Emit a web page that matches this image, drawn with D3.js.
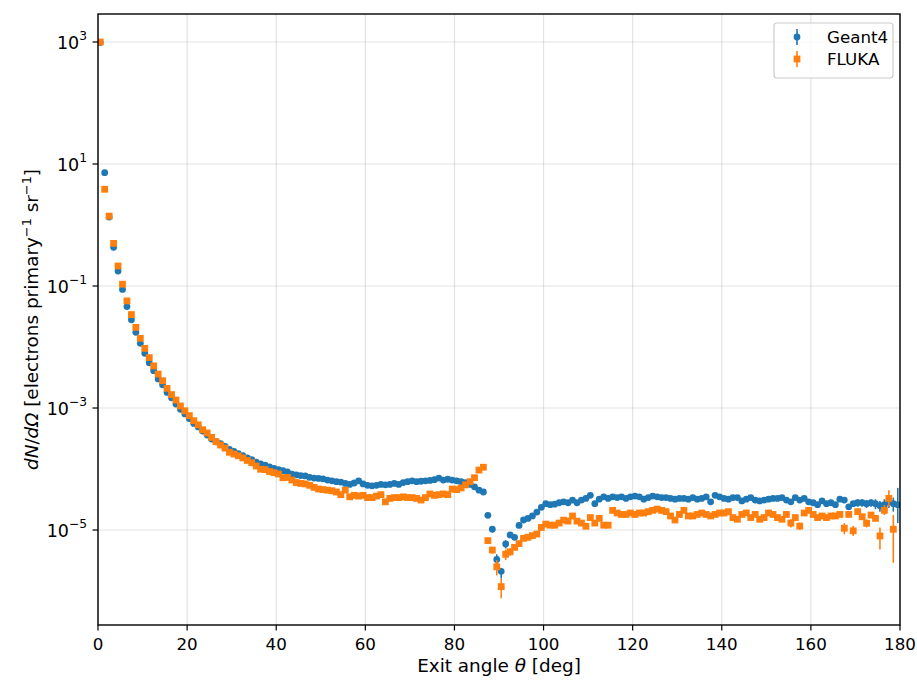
<!DOCTYPE html>
<html><head><meta charset="utf-8">
<script src="https://cdn.jsdelivr.net/npm/d3@7/dist/d3.min.js"></script>
<style>
html,body{margin:0;padding:0;background:#fff;}
svg{display:block;font-family:"DejaVu Sans",sans-serif;}
</style></head>
<body>
<svg id="chart" width="917" height="682"></svg>
<script>
// ---- data ----
const xTicks = [0, 20, 40, 60, 80, 100, 120, 140, 160, 180];
const yTickExponents = [-5, -3, -1, 1, 3];
const seriesNames = ["Geant4", "FLUKA"];

// bin centres 0.5 ... 179.5 deg
const geant4 = [
 980, 7.2, 1.35, 0.43, 0.176, 0.088, 0.046, 0.028, 0.0174, 0.0115,
 0.0079, 0.0055, 0.0041, 0.0030, 0.0024, 0.0018, 0.00147, 0.00116, 0.00095, 0.00080,
 6.7e-4, 5.6e-4, 4.9e-4, 4.2e-4, 3.6e-4, 3.1e-4, 2.8e-4, 2.6e-4, 2.35e-4, 2.1e-4,
 1.95e-4, 1.78e-4, 1.65e-4, 1.52e-4, 1.43e-4, 1.30e-4, 1.21e-4, 1.16e-4, 1.08e-4, 1.02e-4,
 9.8e-5, 9.4e-5, 9.0e-5, 8.2e-5, 8.0e-5, 7.8e-5, 7.7e-5, 7.3e-5, 7.1e-5, 7.0e-5,
 6.9e-5, 6.6e-5, 6.4e-5, 6.2e-5, 6.1e-5, 5.8e-5, 5.6e-5, 5.9e-5, 6.4e-5, 5.7e-5,
 5.4e-5, 5.3e-5, 5.4e-5, 5.6e-5, 5.5e-5, 5.6e-5, 5.8e-5, 5.6e-5, 6.0e-5, 6.2e-5,
 6.4e-5, 6.2e-5, 6.3e-5, 6.4e-5, 6.5e-5, 6.7e-5, 7.1e-5, 6.6e-5, 6.8e-5, 6.6e-5,
 6.4e-5, 6.2e-5, 6.0e-5, 5.6e-5, 5.1e-5, 4.5e-5, 4.2e-5, 1.74e-5, 1.03e-5, 3.3e-6,
 2.1e-6, 5.9e-6, 8.3e-6, 7.6e-6, 1.19e-5, 1.46e-5, 1.55e-5, 1.7e-5, 1.97e-5, 2.35e-5,
 2.7e-5, 2.6e-5, 2.65e-5, 2.8e-5, 2.9e-5, 2.8e-5, 3.1e-5, 2.8e-5, 3.1e-5, 3.3e-5,
 3.7e-5, 2.7e-5, 3.2e-5, 3.5e-5, 3.3e-5, 3.5e-5, 3.4e-5, 3.5e-5, 3.3e-5, 3.5e-5,
 3.6e-5, 3.5e-5, 3.2e-5, 3.4e-5, 3.6e-5, 3.5e-5, 3.4e-5, 3.4e-5, 3.3e-5, 3.2e-5,
 3.3e-5, 3.3e-5, 3.2e-5, 3.4e-5, 3.2e-5, 3.3e-5, 3.5e-5, 2.9e-5, 3.7e-5, 3.5e-5,
 3.3e-5, 3.2e-5, 3.4e-5, 3.4e-5, 3.0e-5, 3.2e-5, 3.4e-5, 3.1e-5, 3.0e-5, 3.1e-5,
 3.2e-5, 3.3e-5, 3.3e-5, 3.4e-5, 3.1e-5, 2.9e-5, 3.4e-5, 3.1e-5, 3.3e-5, 2.9e-5,
 2.8e-5, 2.6e-5, 3.0e-5, 2.7e-5, 2.8e-5, 2.6e-5, 3.2e-5, 3.1e-5, 2.4e-5, 2.7e-5,
 2.8e-5, 2.8e-5, 2.7e-5, 2.8e-5, 2.7e-5, 2.5e-5, 2.6e-5, 2.9e-5, 2.7e-5, 2.6e-5
];

const fluka = [
 1000, 3.85, 1.40, 0.50, 0.213, 0.107, 0.057, 0.034, 0.021, 0.0139,
 0.0095, 0.0067, 0.0049, 0.0036, 0.0028, 0.0021, 0.00166, 0.00135, 0.00108, 0.00090,
 7.5e-4, 6.2e-4, 5.3e-4, 4.4e-4, 3.9e-4, 3.3e-4, 2.8e-4, 2.47e-4, 2.2e-4, 1.88e-4,
 1.76e-4, 1.65e-4, 1.52e-4, 1.38e-4, 1.27e-4, 1.12e-4, 9.9e-5, 9.8e-5, 9.1e-5, 8.7e-5,
 8.3e-5, 7.2e-5, 7.3e-5, 6.6e-5, 6.0e-5, 5.8e-5, 5.7e-5, 5.4e-5, 5.0e-5, 4.7e-5,
 4.6e-5, 4.5e-5, 4.4e-5, 4.2e-5, 3.8e-5, 4.5e-5, 3.5e-5, 3.7e-5, 3.6e-5, 3.7e-5,
 3.4e-5, 3.4e-5, 3.6e-5, 3.8e-5, 2.9e-5, 3.3e-5, 3.4e-5, 3.4e-5, 3.5e-5, 3.4e-5,
 3.4e-5, 3.3e-5, 3.1e-5, 3.4e-5, 3.9e-5, 3.7e-5, 3.8e-5, 3.9e-5, 3.8e-5, 4.7e-5,
 4.6e-5, 4.9e-5, 5.5e-5, 6.2e-5, 7.2e-5, 9.6e-5, 1.07e-4, 6.7e-6, 4.7e-6, 2.5e-6,
 1.18e-6, 4.0e-6, 4.4e-6, 5.2e-6, 6.0e-6, 7.3e-6, 7.6e-6, 8.1e-6, 8.6e-6, 1.1e-5,
 1.25e-5, 1.2e-5, 1.2e-5, 1.3e-5, 1.45e-5, 1.4e-5, 1.7e-5, 1.4e-5, 1.3e-5, 1.15e-5,
 1.6e-5, 1.3e-5, 1.55e-5, 1.2e-5, 1.2e-5, 2.1e-5, 1.9e-5, 1.8e-5, 1.8e-5, 1.9e-5,
 1.8e-5, 1.9e-5, 1.9e-5, 2.0e-5, 2.1e-5, 2.2e-5, 2.1e-5, 2.0e-5, 1.7e-5, 1.46e-5,
 1.8e-5, 2.1e-5, 1.7e-5, 1.7e-5, 1.8e-5, 1.9e-5, 1.8e-5, 1.7e-5, 1.8e-5, 1.9e-5,
 1.9e-5, 2.0e-5, 1.6e-5, 1.5e-5, 1.8e-5, 1.9e-5, 1.6e-5, 1.8e-5, 1.5e-5, 1.6e-5,
 1.9e-5, 1.8e-5, 1.6e-5, 1.5e-5, 1.8e-5, 1.3e-5, 1.6e-5, 1.16e-5, 1.9e-5, 2.1e-5,
 1.8e-5, 1.6e-5, 1.7e-5, 1.6e-5, 1.7e-5, 1.7e-5, 1.8e-5, 1.07e-5, 1.8e-5, 0.97e-5,
 2.0e-5, 1.65e-5, 1.29e-5, 1.76e-5, 1.55e-5, 8.0e-6, 2.1e-5, 3.3e-5, 1.03e-5, null
];

// visible error bars: [angle, low, high]
const geant4Err = [
 [89.5, 2.7e-6, 4.0e-6], [90.5, 1.6e-6, 2.4e-6], [91.5, 5.0e-6, 6.8e-6],
 [170.5, 2.4e-5, 3.2e-5], [171.5, 2.4e-5, 3.2e-5], [172.5, 2.3e-5, 3.1e-5],
 [173.5, 2.4e-5, 3.2e-5], [174.5, 2.2e-5, 3.2e-5], [175.5, 2.0e-5, 3.0e-5],
 [176.5, 2.0e-5, 3.2e-5], [177.5, 2.3e-5, 3.5e-5], [178.5, 2.0e-5, 3.4e-5],
 [179.5, 1.3e-5, 4.9e-5]
];
const flukaErr = [
 [88.5, 4.1e-6, 5.3e-6], [89.5, 1.8e-6, 3.2e-6], [90.5, 7.6e-7, 1.6e-6],
 [91.5, 3.2e-6, 4.8e-6], [92.5, 3.8e-6, 5.0e-6], [155.5, 1.1e-5, 1.5e-5],
 [157.5, 1.0e-5, 1.33e-5], [167.5, 8.5e-6, 1.3e-5], [169.5, 8.0e-6, 1.17e-5],
 [172.5, 1.1e-5, 1.5e-5], [175.5, 4.8e-6, 1.1e-5], [176.5, 1.76e-5, 2.57e-5],
 [177.5, 2.4e-5, 4.5e-5], [178.5, 2.9e-6, 1.76e-5]
];

// ---- layout ----
const M = {left: 98, right: 900, top: 14, bottom: 625};
const BLUE = "#1f77b4", ORANGE = "#ff7f0e";
const FS_TICK = 16.7, FS_YTICK = 17.5, FS_LABEL = 18.4, FS_LEG = 16.7;

const svg = d3.select("#chart");
const x = d3.scaleLinear().domain([0, 180]).range([M.left, M.right]);
const y = d3.scaleLog().domain([Math.pow(10, -6.557), Math.pow(10, 3.459)]).range([M.bottom, M.top]);

const toPts = arr => arr.map((v, i) => ({a: i + 0.5, v})).filter(d => d.v != null);

// grid
const grid = svg.append("g");
grid.selectAll("line.gx").data(xTicks).join("line")
  .attr("x1", d => x(d)).attr("x2", d => x(d))
  .attr("y1", M.top).attr("y2", M.bottom)
  .attr("stroke", "#b0b0b0").attr("stroke-opacity", 0.35).attr("stroke-width", 1.2);
grid.selectAll("line.gy").data(yTickExponents).join("line")
  .attr("x1", M.left).attr("x2", M.right)
  .attr("y1", d => y(Math.pow(10, d))).attr("y2", d => y(Math.pow(10, d)))
  .attr("stroke", "#b0b0b0").attr("stroke-opacity", 0.35).attr("stroke-width", 1.2);

// clip
svg.append("clipPath").attr("id", "clip").append("rect")
  .attr("x", M.left).attr("y", M.top).attr("width", M.right - M.left).attr("height", M.bottom - M.top);
const plot = svg.append("g").attr("clip-path", "url(#clip)");

function drawSeries(vals, errs, color, shape) {
  const g = plot.append("g");
  g.selectAll("line.err").data(errs).join("line")
    .attr("x1", d => x(d[0])).attr("x2", d => x(d[0]))
    .attr("y1", d => y(d[1])).attr("y2", d => y(d[2]))
    .attr("stroke", color).attr("stroke-width", 1.6);
  const pts = toPts(vals);
  if (shape === "circle") {
    g.selectAll("circle").data(pts).join("circle")
      .attr("cx", d => x(d.a)).attr("cy", d => y(d.v)).attr("r", 3.4).attr("fill", color);
  } else {
    const s = 6.8;
    g.selectAll("rect").data(pts).join("rect")
      .attr("x", d => x(d.a) - s / 2).attr("y", d => y(d.v) - s / 2)
      .attr("width", s).attr("height", s).attr("fill", color);
  }
}
drawSeries(geant4, geant4Err, BLUE, "circle");
drawSeries(fluka, flukaErr, ORANGE, "square");

// axes frame
svg.append("rect").attr("x", M.left).attr("y", M.top)
  .attr("width", M.right - M.left).attr("height", M.bottom - M.top)
  .attr("fill", "none").attr("stroke", "#000").attr("stroke-width", 1.4);

// x axis
const xa = svg.append("g");
xa.selectAll("line").data(xTicks).join("line")
  .attr("x1", d => x(d)).attr("x2", d => x(d))
  .attr("y1", M.bottom).attr("y2", M.bottom + 5.5)
  .attr("stroke", "#000").attr("stroke-width", 1.2);
xa.selectAll("text").data(xTicks).join("text")
  .attr("x", d => x(d)).attr("y", M.bottom + 25)
  .attr("text-anchor", "middle").attr("font-size", FS_TICK).attr("fill", "#000")
  .text(d => d);

// y axis
const ya = svg.append("g");
ya.selectAll("line").data(yTickExponents).join("line")
  .attr("x1", M.left - 5.5).attr("x2", M.left)
  .attr("y1", d => y(Math.pow(10, d))).attr("y2", d => y(Math.pow(10, d)))
  .attr("stroke", "#000").attr("stroke-width", 1.2);
const yt = ya.selectAll("text").data(yTickExponents).join("text")
  .attr("x", M.left - 11).attr("y", d => y(Math.pow(10, d)) + 6.5)
  .attr("text-anchor", "end").attr("font-size", FS_YTICK).attr("fill", "#000");
yt.append("tspan").text("10");
yt.append("tspan").attr("font-size", FS_YTICK * 0.7).attr("dy", -8.5)
  .text(d => (d < 0 ? "\u2212" : "") + Math.abs(d));

// axis labels
svg.append("text").attr("x", (M.left + M.right) / 2).attr("y", 672)
  .attr("text-anchor", "middle").attr("font-size", FS_LABEL)
  .call(t => {
    t.append("tspan").text("Exit angle ");
    t.append("tspan").attr("font-style", "italic").text("\u03b8");
    t.append("tspan").text(" [deg]");
  });

const yl = svg.append("text")
  .attr("transform", `translate(38,${(M.top + M.bottom) / 2}) rotate(-90)`)
  .attr("text-anchor", "middle").attr("font-size", FS_LABEL);
yl.append("tspan").attr("font-style", "italic").text("dN");
yl.append("tspan").text("/");
yl.append("tspan").attr("font-style", "italic").text("d\u03a9");
yl.append("tspan").text(" [electrons primary");
yl.append("tspan").attr("font-size", FS_LABEL * 0.7).attr("dy", -7.5).text("\u22121");
yl.append("tspan").attr("dy", 7.5).text(" sr");
yl.append("tspan").attr("font-size", FS_LABEL * 0.7).attr("dy", -7.5).text("\u22121");
yl.append("tspan").attr("dy", 7.5).text("]");

// legend
const lg = svg.append("g");
lg.append("rect").attr("x", 774).attr("y", 23).attr("width", 119).attr("height", 55)
  .attr("rx", 3).attr("fill", "#fff").attr("fill-opacity", 0.8)
  .attr("stroke", "#cccccc").attr("stroke-width", 1.2);
const legendRows = seriesNames.map((n, i) => ({name: n, color: i === 0 ? BLUE : ORANGE, shape: i === 0 ? "circle" : "square", cy: 37 + i * 22}));
legendRows.forEach(r => {
  lg.append("line").attr("x1", 797).attr("x2", 797).attr("y1", r.cy - 8).attr("y2", r.cy + 8)
    .attr("stroke", r.color).attr("stroke-width", 1.6);
  if (r.shape === "circle") {
    lg.append("circle").attr("cx", 797).attr("cy", r.cy).attr("r", 3.4).attr("fill", r.color);
  } else {
    lg.append("rect").attr("x", 797 - 3.4).attr("y", r.cy - 3.4).attr("width", 6.8).attr("height", 6.8).attr("fill", r.color);
  }
  lg.append("text").attr("x", 827).attr("y", r.cy + 6).attr("font-size", FS_LEG).text(r.name);
});
</script>
</body></html>
